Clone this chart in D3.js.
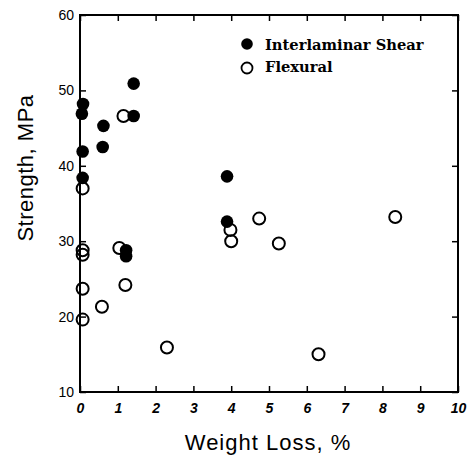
<!DOCTYPE html>
<html><head><meta charset="utf-8">
<script src="https://cdn.jsdelivr.net/npm/d3@7"></script>
<style>body{margin:0;background:#fff}</style>
</head><body>
<svg id="c" width="469" height="458"></svg>
<script>
const shearX = [0.08, 0.05, 0.07, 0.07, 0.62, 0.60, 1.42, 1.42, 1.22, 1.22, 3.89, 3.89];
const shearY = [48.2, 46.9, 41.9, 38.4, 45.3, 42.5, 50.9, 46.6, 28.8, 28.0, 38.6, 32.6];
const flexX = [0.07, 0.07, 0.07, 0.07, 0.07, 0.58, 1.04, 1.15, 1.20, 2.30, 3.98, 4.00, 4.74, 5.26, 6.31, 8.34];
const flexY = [37.0, 28.8, 28.2, 23.7, 19.6, 21.3, 29.1, 46.6, 24.2, 15.9, 31.5, 30.0, 33.0, 29.7, 15.0, 33.2];
const xTicks = [0,1,2,3,4,5,6,7,8,9,10];
const yTicks = [10,20,30,40,50,60];
const legendLabels = ["Interlaminar Shear", "Flexural"];

const svg = d3.select("#c");
const L = 80, R = 458, T = 15, B = 392;
const x = d3.scaleLinear().domain([0,10]).range([L,R]);
const y = d3.scaleLinear().domain([10,60]).range([B,T]);

// frame
svg.append("rect").attr("x",L).attr("y",T).attr("width",R-L).attr("height",B-T)
  .attr("fill","none").attr("stroke","#000").attr("stroke-width",2);

const tl = 6;
// bottom axis
const bx = svg.append("g").attr("transform",`translate(0,${B})`)
  .call(d3.axisBottom(x).tickValues(xTicks).tickSize(-tl).tickPadding(11).tickFormat(d3.format("d")));
bx.select(".domain").remove();
bx.selectAll("line").attr("stroke","#000").attr("stroke-width",1.5);
bx.selectAll("text").attr("font-family","Liberation Sans, Arial, sans-serif").attr("font-size",14)
  .attr("font-weight","bold").attr("font-style","italic").attr("fill","#000");
// top ticks
const tx = svg.append("g").attr("transform",`translate(0,${T})`)
  .call(d3.axisTop(x).tickValues(xTicks).tickSize(-tl).tickFormat(""));
tx.select(".domain").remove();
tx.selectAll("line").attr("stroke","#000").attr("stroke-width",1.5);
// left axis
const ly = svg.append("g").attr("transform",`translate(${L},0)`)
  .call(d3.axisLeft(y).tickValues(yTicks).tickSize(-tl).tickPadding(6).tickFormat(d3.format("d")));
ly.select(".domain").remove();
ly.selectAll("line").attr("stroke","#000").attr("stroke-width",1.5);
ly.selectAll("text").attr("font-family","Liberation Sans, Arial, sans-serif").attr("font-size",14)
  .attr("fill","#000");
// right ticks
const ry = svg.append("g").attr("transform",`translate(${R},0)`)
  .call(d3.axisRight(y).tickValues(yTicks).tickSize(-tl).tickFormat(""));
ry.select(".domain").remove();
ry.selectAll("line").attr("stroke","#000").attr("stroke-width",1.5);

// points
const shear = shearX.map((v,i)=>({x:v,y:shearY[i]}));
const flex = flexX.map((v,i)=>({x:v,y:flexY[i]}));
svg.append("g").selectAll("circle").data(flex).join("circle")
  .attr("cx",d=>x(d.x)).attr("cy",d=>y(d.y)).attr("r",6)
  .attr("fill","none").attr("stroke","#000").attr("stroke-width",2);
svg.append("g").selectAll("circle").data(shear).join("circle")
  .attr("cx",d=>x(d.x)).attr("cy",d=>y(d.y)).attr("r",6.3)
  .attr("fill","#000");

// legend
const lg = svg.append("g");
lg.append("circle").attr("cx",247).attr("cy",44).attr("r",5.8).attr("fill","#000");
lg.append("circle").attr("cx",247).attr("cy",68).attr("r",5.5).attr("fill","none").attr("stroke","#000").attr("stroke-width",1.8);
lg.selectAll("text").data(legendLabels).join("text")
  .attr("x",265).attr("y",(d,i)=>50+i*22)
  .attr("font-family","DejaVu Serif, serif").attr("font-weight","bold").attr("font-size",14.7)
  .attr("fill","#000")
  .text(d=>d);

// axis titles
svg.append("text").attr("x",268).attr("y",450).attr("text-anchor","middle")
  .attr("font-family","Liberation Sans, Arial, sans-serif").attr("font-size",22).attr("letter-spacing",1)
  .attr("fill","#000")
  .text("Weight Loss, %");
svg.append("text").attr("transform","translate(33,168) rotate(-90)").attr("text-anchor","middle")
  .attr("font-family","Liberation Sans, Arial, sans-serif").attr("font-size",22).attr("letter-spacing",0.5)
  .attr("fill","#000")
  .text("Strength, MPa");
</script>
</body></html>
